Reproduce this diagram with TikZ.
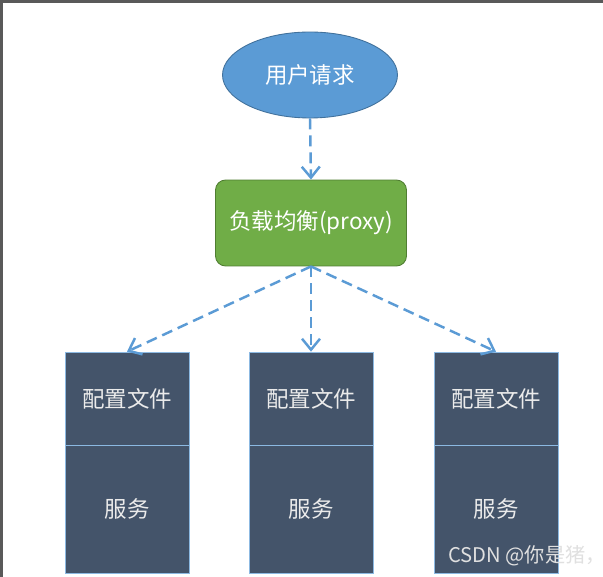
\documentclass[tikz,border=0pt]{standalone}
\usepackage{fontspec}
\newfontfamily\cjk{Noto Sans CJK SC}
\usetikzlibrary{arrows.meta,shapes.geometric}

\definecolor{reqblue}{HTML}{5B9BD5}
\definecolor{reqedge}{HTML}{41719C}
\definecolor{lbgreen}{HTML}{70AD47}
\definecolor{lbedge}{HTML}{507E32}
\definecolor{srvslate}{HTML}{44546A}

\tikzset{
  flow/.style={dashed,dash pattern=on 0.22cm off 0.12cm,line width=1.4pt,reqblue,
    -{Straight Barb[length=0.22cm,width=0.36cm,line width=1.4pt]}},
  cfgbox/.style={draw=reqblue!70,fill=srvslate,line width=0.4pt,minimum width=2.48cm,
    minimum height=1.86cm,text=white!92!black,font=\cjk\fontsize{12.8}{15}\selectfont,inner sep=0pt},
  svcbox/.style={cfgbox,minimum height=2.56cm}
}

\begin{document}
\begin{tikzpicture}[x=0.02cm,y=-0.02cm]
  \useasboundingbox (0,0) rectangle (603,577);
  \fill[white] (0,0) rectangle (603,577);
  \fill[black!65] (0,0) rectangle (603,3);
  \fill[black!65] (0,0) rectangle (3,577);

  \node[ellipse,draw=reqedge,fill=reqblue,line width=0.5pt,minimum width=3.5cm,
    minimum height=1.72cm,text=white,font=\cjk\fontsize{12.8}{15}\selectfont] (req) at (310,75) {用户请求};
  \node[draw=lbedge,fill=lbgreen,rounded corners=0.2cm,line width=0.5pt,minimum width=3.82cm,
    minimum height=1.72cm,text=white,font=\cjk\fontsize{12.8}{15}\selectfont] (proxy) at (311,223) {负载均衡(proxy)};

  \node[cfgbox] (cfga) at (127,398.5) {配置文件};
  \node[svcbox] (svca) at (127,509) {服务};
  \node[cfgbox] (cfgb) at (311,398.5) {配置文件};
  \node[svcbox] (svcb) at (311,509) {服务};
  \node[cfgbox] (cfgc) at (496,398.5) {配置文件};
  \node[svcbox] (svcc) at (496,509) {服务};

  \draw[flow] (req.south) -- (proxy.north);
  \draw[flow] (proxy.south) -- (cfga.north);
  \draw[flow] (proxy.south) -- (cfgb.north);
  \draw[flow] (proxy.south) -- (cfgc.north);

  \node[text=white!88!black,font=\cjk\fontsize{11.5}{13}\selectfont] (mark) at (527,556) {CSDN @你是猪，};
\end{tikzpicture}
\end{document}
